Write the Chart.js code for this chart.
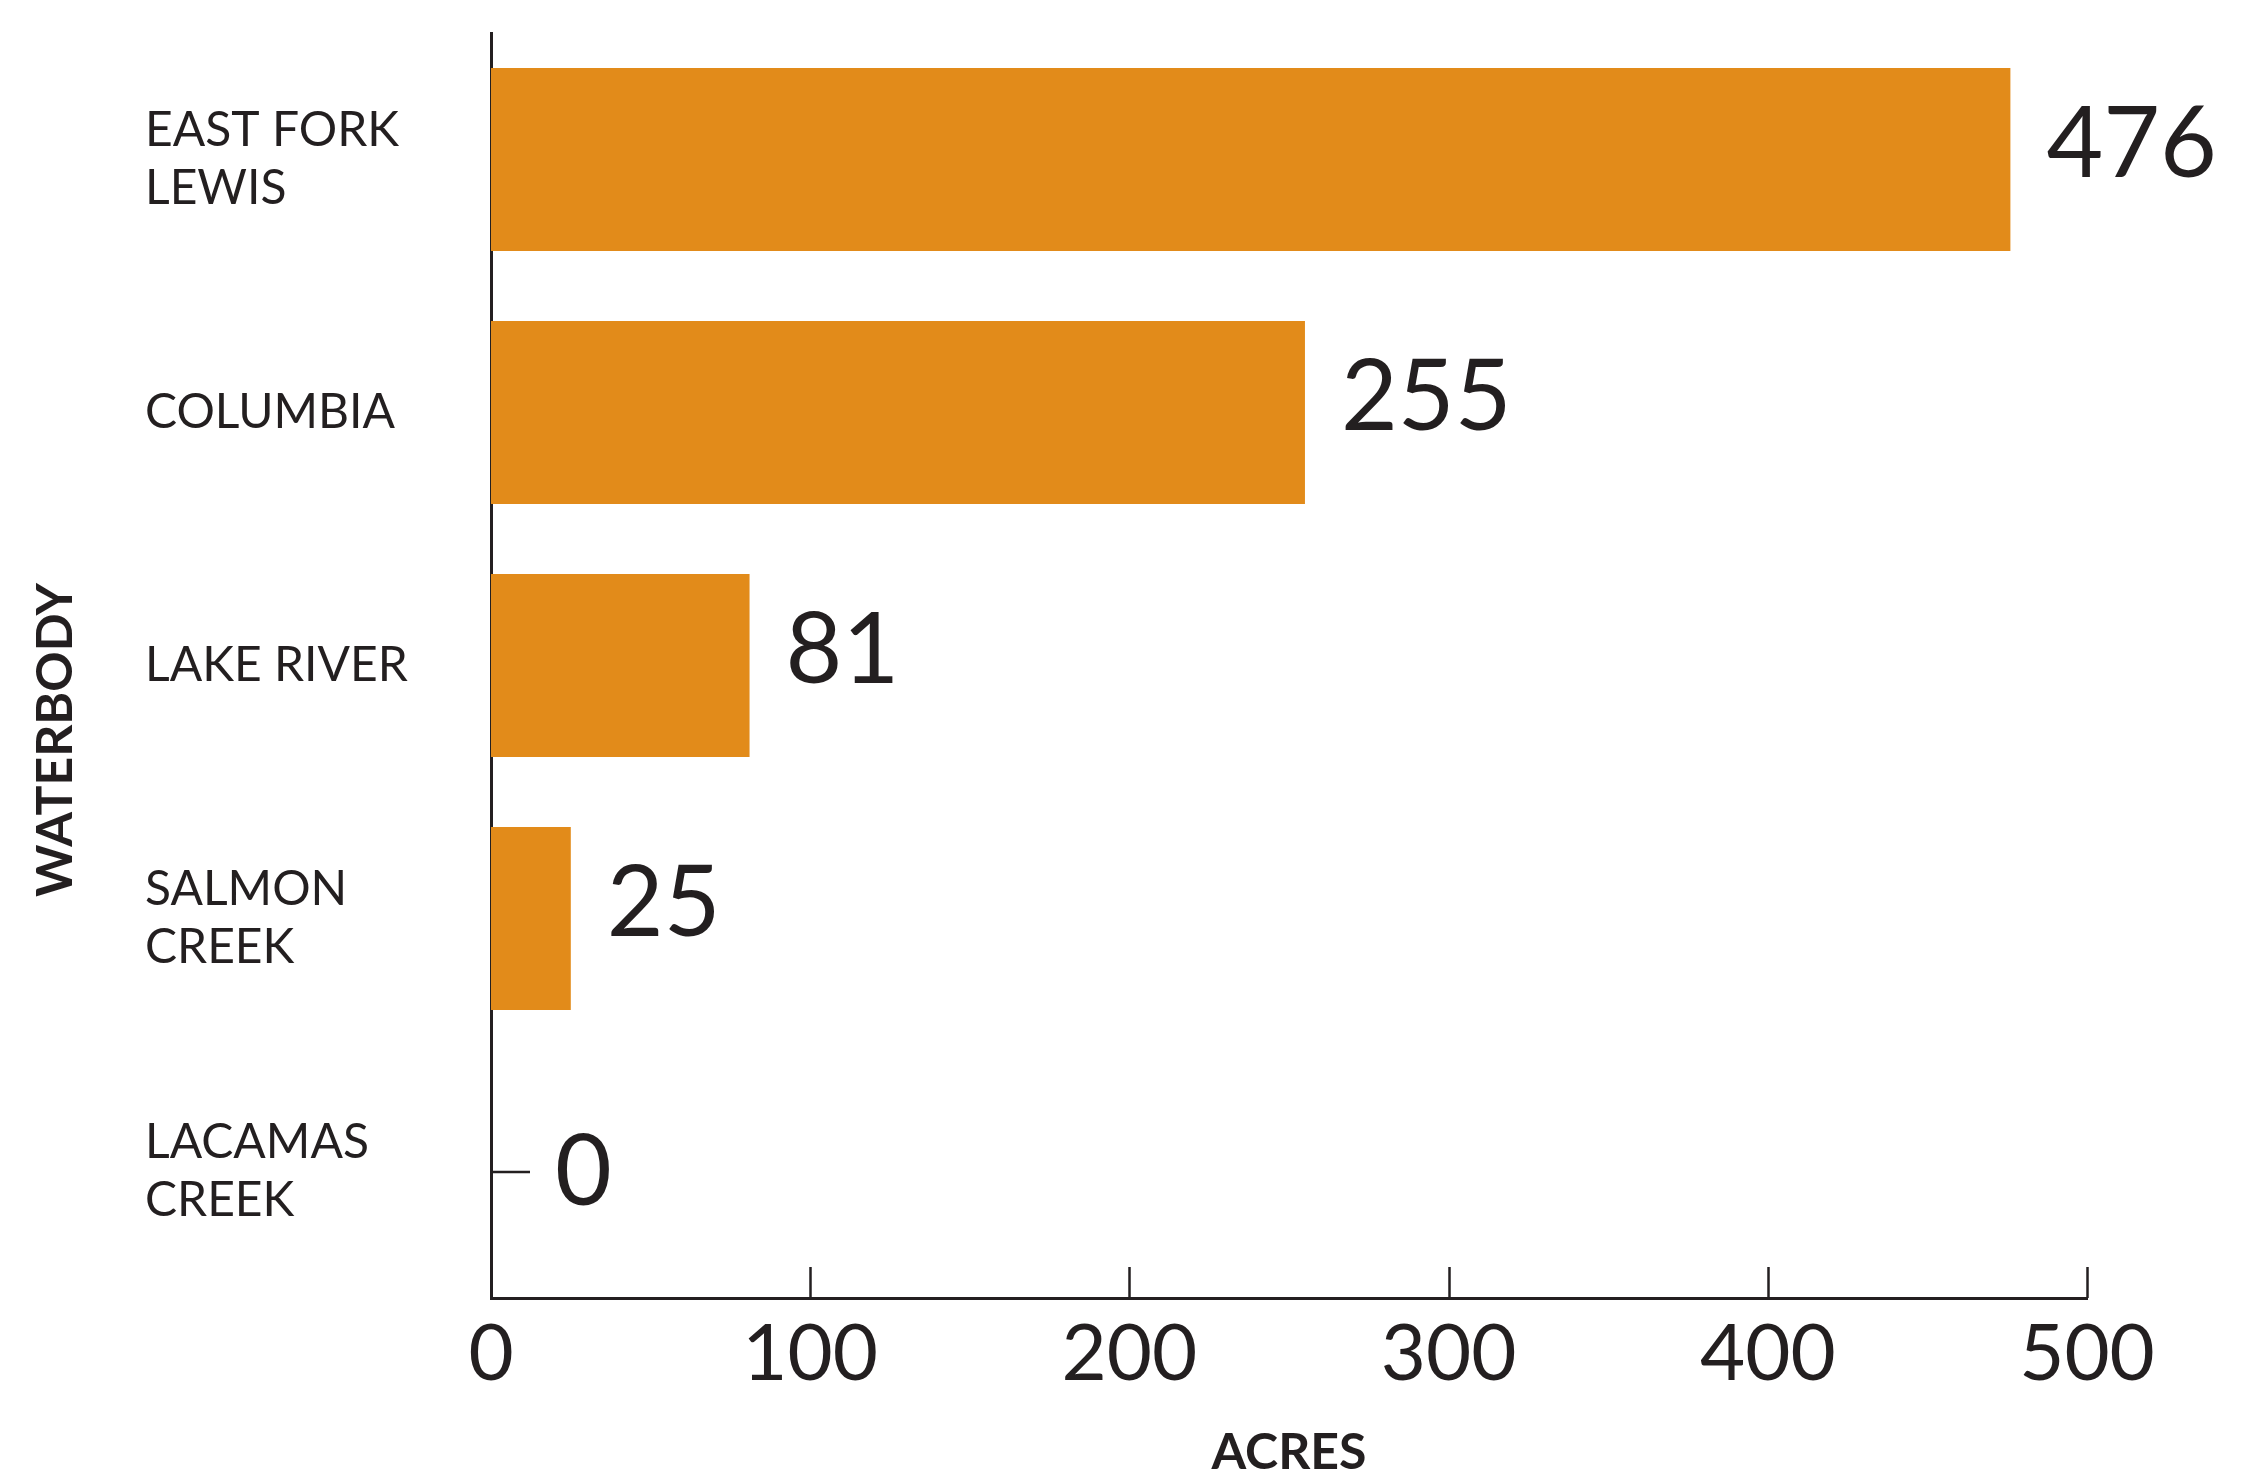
<!DOCTYPE html>
<html>
<head>
    <meta charset="UTF-8">
    <title>Acres by Waterbody</title>
    <script src="https://cdn.jsdelivr.net/npm/chart.js"></script>
    <style>
        body { margin: 0; background: #fff; }
        canvas { display: block; }
    </style>
</head>
<body>
    <canvas id="acresChart" width="2244" height="1473"></canvas>

    <script>
        // Data
        const waterbodies = [['EAST FORK', 'LEWIS'], 'COLUMBIA', 'LAKE RIVER', ['SALMON', 'CREEK'], ['LACAMAS', 'CREEK']];
        const acres = [476, 255, 81, 25, 0];
        const acreTicks = [0, 100, 200, 300, 400, 500];

        const ink = '#231F20';
        const orange = '#E28B1A';
        const axisLeft = 491;   // where the vertical axis sits
        const axisBottom = 1298;

        // Short tick marks pointing up into the plot area
        const innerTicks = {
            id: 'innerTicks',
            afterDraw(chart) {
                const ctx = chart.ctx;
                const x = chart.scales.x;
                ctx.save();
                ctx.strokeStyle = ink;
                ctx.lineWidth = 2.5;
                acreTicks.forEach(v => {
                    const px = Math.round(x.getPixelForValue(v)) + 0.5;
                    ctx.beginPath();
                    ctx.moveTo(px, x.top);
                    ctx.lineTo(px, x.top - 31);
                    ctx.stroke();
                });
                ctx.restore();
            }
        };

        // Numbers at the end of each bar (a short leader for zero values)
        const valueLabels = {
            id: 'valueLabels',
            afterDatasetsDraw(chart) {
                const ctx = chart.ctx;
                const meta = chart.getDatasetMeta(0);
                ctx.save();
                ctx.fillStyle = ink;
                ctx.strokeStyle = ink;
                ctx.lineWidth = 2.5;
                ctx.font = '98px Lato';
                ctx.textAlign = 'left';
                ctx.textBaseline = 'alphabetic';
                meta.data.forEach((bar, i) => {
                    if (acres[i] === 0) {
                        ctx.beginPath();
                        ctx.moveTo(bar.x, bar.y + 0.5);
                        ctx.lineTo(bar.x + 39, bar.y + 0.5);
                        ctx.stroke();
                        ctx.fillText(String(acres[i]), bar.x + 64, bar.y + 33);
                    } else {
                        ctx.fillText(String(acres[i]), bar.x + 36, bar.y + 17);
                    }
                });
                ctx.restore();
            }
        };

        // Rotated title for the category axis
        const yTitle = {
            id: 'yTitle',
            afterDraw(chart) {
                const ctx = chart.ctx;
                ctx.save();
                ctx.translate(56, 740);
                ctx.rotate(-Math.PI / 2);
                ctx.fillStyle = ink;
                ctx.font = 'bold 50px Lato';
                ctx.textAlign = 'center';
                ctx.textBaseline = 'middle';
                ctx.fillText('WATERBODY', 0, 0);
                ctx.restore();
            }
        };

        const ctx = document.getElementById('acresChart').getContext('2d');
        const acresChart = new Chart(ctx, {
            type: 'bar',
            data: {
                labels: waterbodies,
                datasets: [{
                    data: acres,
                    backgroundColor: orange,
                    borderWidth: 0,
                    barPercentage: 0.723,
                    categoryPercentage: 1
                }]
            },
            options: {
                indexAxis: 'y',
                responsive: false,
                animation: false,
                layout: { padding: { left: 145, top: 33, right: 157, bottom: 0 } },
                plugins: {
                    legend: { display: false },
                    tooltip: { enabled: false }
                },
                scales: {
                    x: {
                        min: acreTicks[0],
                        max: acreTicks[acreTicks.length - 1],
                        grid: { display: false },
                        border: { display: true, color: ink, width: 3 },
                        ticks: {
                            stepSize: 100,
                            color: ink,
                            padding: 2,
                            font: { family: 'Lato', size: 78 }
                        },
                        title: {
                            display: true,
                            text: 'ACRES',
                            color: ink,
                            padding: 0,
                            font: { family: 'Lato', size: 50, weight: 'bold', lineHeight: 0.8 }
                        },
                        afterFit(scale) {
                            scale.height = 1473 - axisBottom;
                            scale.paddingLeft = 0;
                            scale.paddingRight = 0;
                        }
                    },
                    y: {
                        grid: { display: false },
                        border: { display: true, color: ink, width: 3 },
                        ticks: {
                            color: ink,
                            crossAlign: 'far',
                            font: { family: 'Lato', size: 48, lineHeight: 1.19 }
                        },
                        afterFit(scale) {
                            scale.width = axisLeft - 145;
                            // labels may overhang the plot; keep the plot top fixed
                            scale.paddingTop = 0;
                            scale.paddingBottom = 0;
                        }
                    }
                }
            },
            plugins: [innerTicks, valueLabels, yTitle]
        });
    </script>
</body>
</html>
